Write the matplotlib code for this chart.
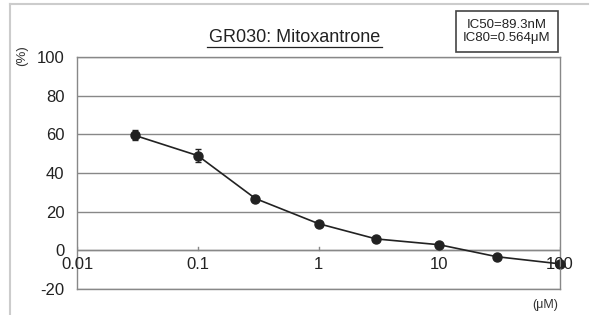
import numpy as np
import matplotlib.pyplot as plt
from matplotlib.lines import Line2D

plt.rcParams['font.family'] = ['Liberation Sans', 'DejaVu Sans']

# data
conc = [0.03, 0.1, 0.3, 1, 3, 10, 30, 100]
growth = [59.5, 49.0, 26.8, 13.8, 5.9, 2.9, -3.3, -7.0]
err = [2.5, 3.5, 0, 0, 0, 0, 0, 0]
yticks = [-20, 0, 20, 40, 60, 80, 100]
xticks = [0.01, 0.1, 1, 10, 100]
xticklabels = ['0.01', '0.1', '1', '10', '100']

fig = plt.figure(figsize=(5.97, 3.15), dpi=100)
ax = fig.add_axes([77/597, 1-289/315, (560-77)/597, (289-57)/315])

ax.set_xscale('log')
ax.set_xlim(0.01, 100)
ax.set_ylim(-20, 100)
ax.set_yticks(yticks)
ax.set_yticklabels([str(v) for v in yticks], fontsize=12, color='#222222')
ax.tick_params(axis='y', length=0, pad=9)
ax.set_xticks([])
ax.minorticks_off()
ax.grid(axis='y', color='#888888', linewidth=1)
ax.set_axisbelow(True)
for s in ax.spines.values():
    s.set_color('#888888')
    s.set_linewidth(1)

# x axis drawn at y=0 with labels below it
ax.axhline(0, color='#888888', linewidth=1)
for xv, lab in zip(xticks, xticklabels):
    ax.plot([xv, xv], [0, 1.8], color='#888888', linewidth=1)
    ax.text(xv, -3.5, lab, ha='center', va='top', fontsize=12, color='#222222')

ax.errorbar(conc, growth, yerr=err, color='#222222', linewidth=1.2,
            marker='o', markersize=6.5, capsize=2.5, elinewidth=1, clip_on=False)

fig.text(294.5/597, 1-37/315, 'GR030: Mitoxantrone', ha='center', va='center',
         fontsize=13, color='#222222')
fig.add_artist(Line2D([207/597, 382/597], [1-46.5/315, 1-46.5/315],
                      color='#222222', linewidth=0.9))

fig.text(507/597, 1-31.5/315, 'IC50=89.3nM\nIC80=0.564\u03bcM', ha='center', va='center',
         fontsize=9.5, color='#222222', linespacing=1.2,
         bbox=dict(boxstyle='square,pad=0.55', fc='white', ec='#444444', lw=1.2))

fig.text(22/597, 1-56/315, '(%)', rotation=90, ha='center', va='center',
         fontsize=9.5, color='#333333')
fig.text(545/597, 1-305/315, '(\u03bcM)', ha='center', va='center',
         fontsize=9, color='#333333')

# light frame of the original image
fig.add_artist(Line2D([10/597, 10/597], [0, 1-4/315], color='#cccccc', linewidth=1.5))
fig.add_artist(Line2D([10/597, 588/597], [1-4/315, 1-4/315], color='#cccccc', linewidth=1.5))

fig.savefig('out.png', dpi=100)
